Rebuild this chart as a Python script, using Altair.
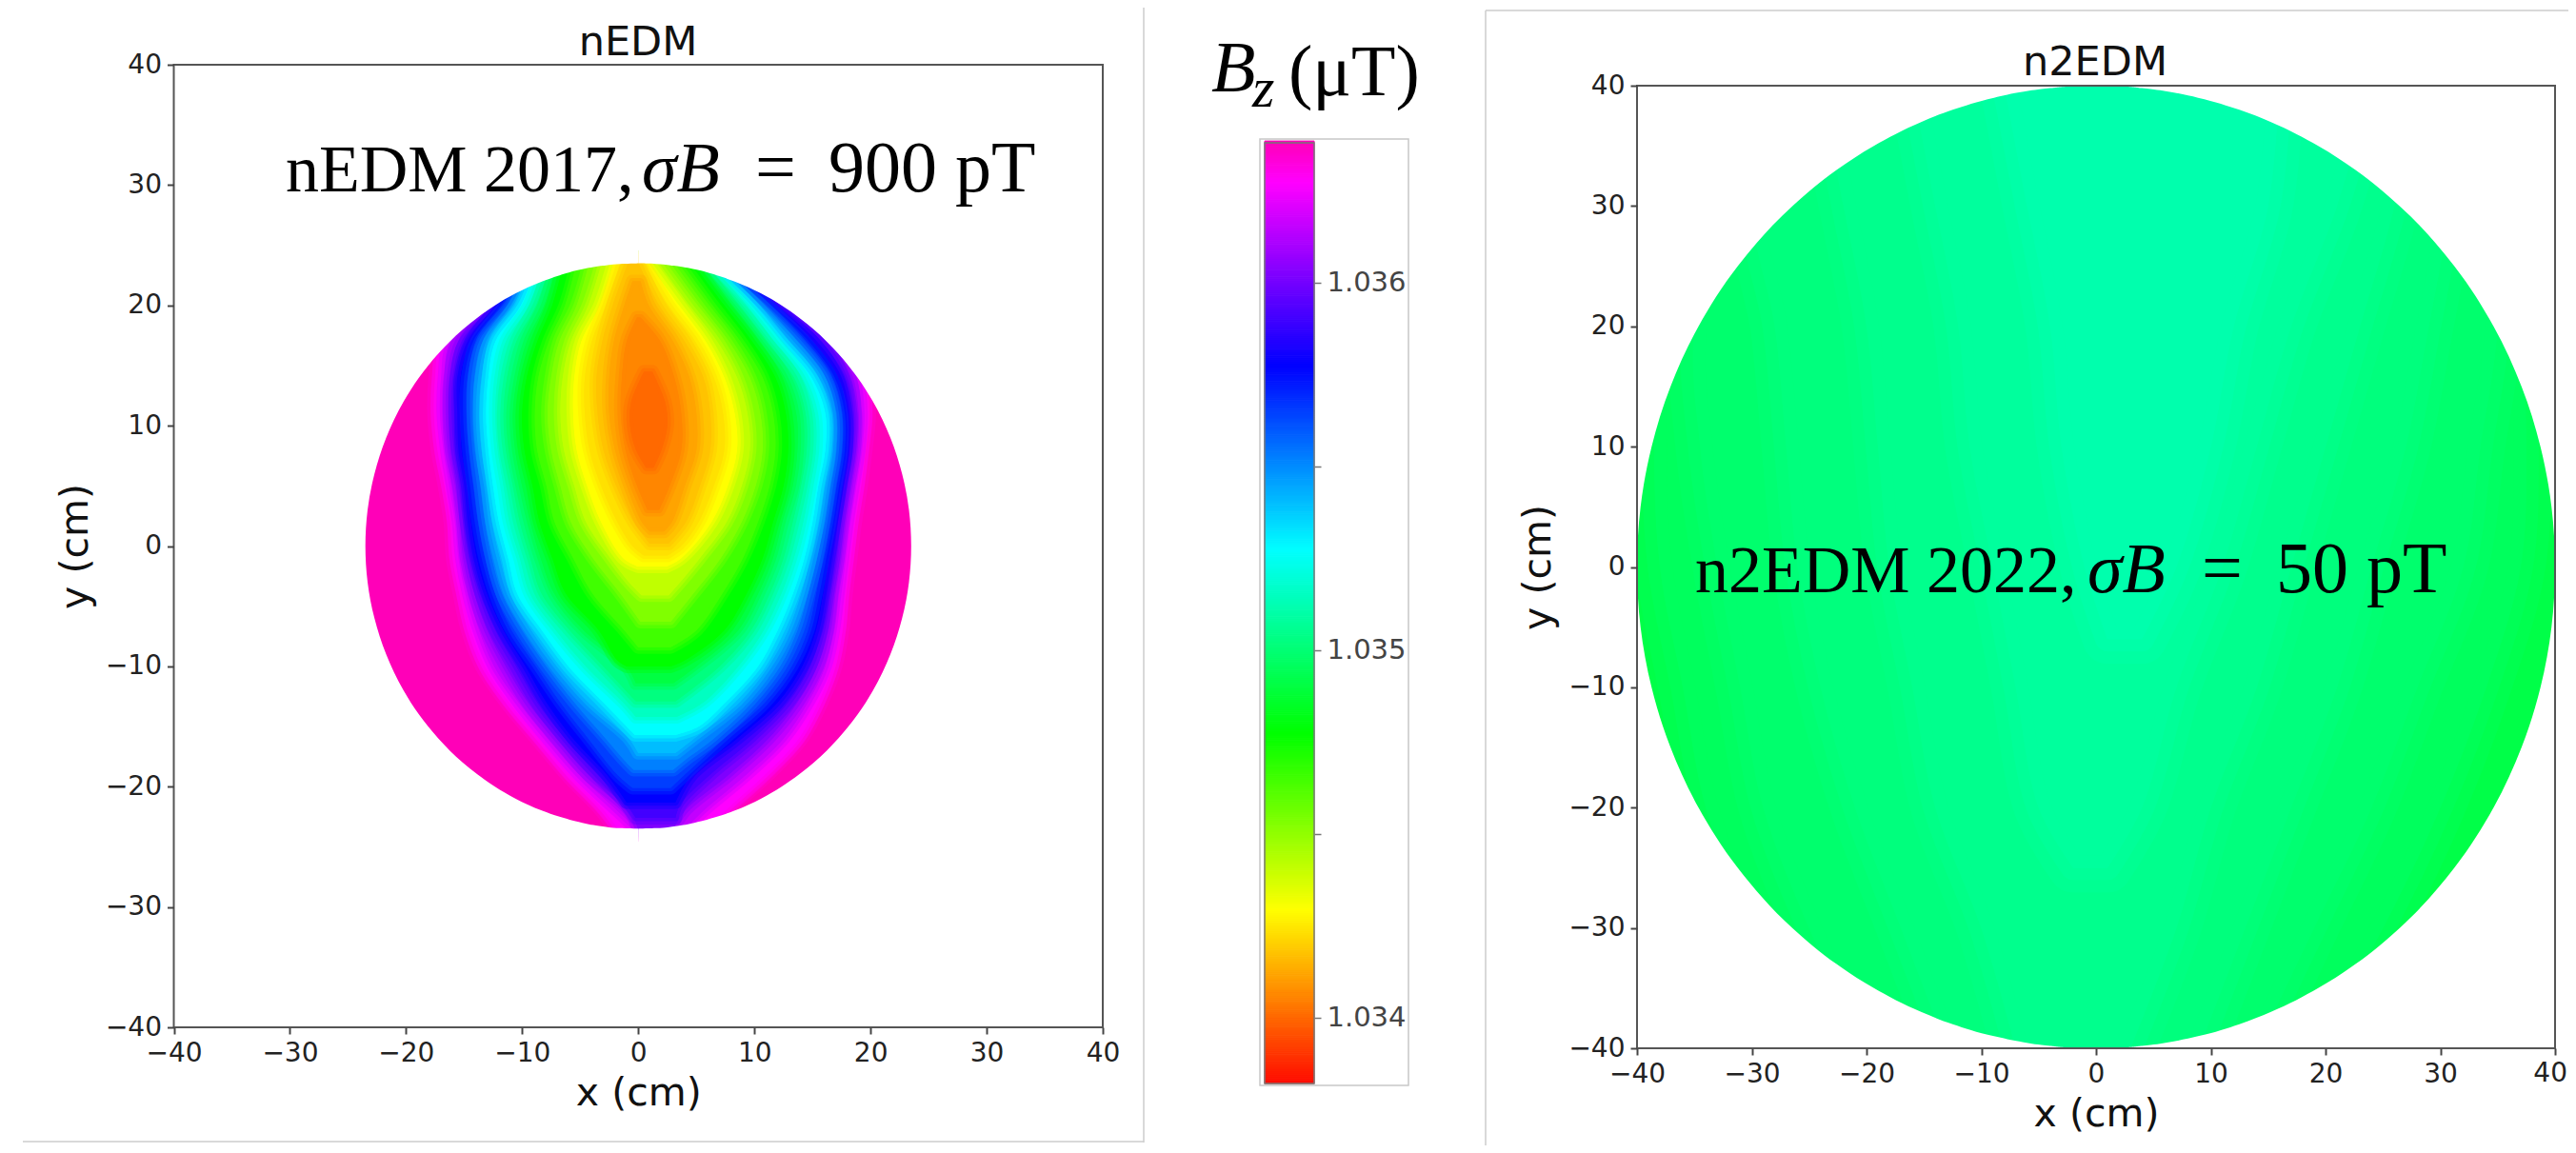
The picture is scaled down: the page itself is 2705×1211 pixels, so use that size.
import altair as alt
import numpy as np
import pandas as pd

COLOR_DOMAIN = [1.03382, 1.034291, 1.034771, 1.035271, 1.035771, 1.03627, 1.03638]
COLOR_RANGE = ["#ff0c00", "#ffff00", "#00ff00", "#00ffff", "#0000ff", "#ff00ff", "#ff00b8"]
CBAR_TICKS = [1.034, 1.0345, 1.035, 1.0355, 1.036]
AXIS_TICKS = [-40, -30, -20, -10, 0, 10, 20, 30, 40]

# nEDM contours: [y, x_left, x_right] in cm
NEDM_BASE = [[-24, -24, 24], [24, -24, 24]]
NEDM_L0 = [[24,-11.3,12.3],[20,-13.8,14.3],[17,-17,18.3],[14,-17.5,19.6],[11,-17.6,19.9],[8,-17.3,19.6],[5,-16.7,19.2],[2,-16.2,18.7],[-1,-16,18.3],[-4,-15.4,17.9],[-7,-14.7,17.6],[-10,-13.5,17],[-13,-11.4,15.8],[-16,-8.8,14.1],[-19,-6.2,11.2],[-22,-3.2,7.8],[-24,-1.7,5.9]]
NEDM_M = [[24,-11,12],[20,-13.5,14],[17,-16.7,18],[14,-17.2,19.3],[11,-17.3,19.6],[8,-17,19.3],[5,-16.4,18.9],[2,-15.9,18.4],[-1,-15.7,18],[-4,-15.1,17.6],[-7,-14.4,17.3],[-10,-13.2,16.7],[-13,-11.1,15.5],[-16,-8.5,13.8],[-19,-5.9,10.9],[-22,-2.9,7.5],[-24,-1.4,5.6]]
NEDM_A1 = [[24,-10.9,11],[20,-13.1,13.4],[17,-16.2,17.3],[14,-16.7,18.8],[11,-16.8,19.2],[8,-16.5,19],[5,-16,18.5],[2,-15.5,18],[-1,-15.2,17.6],[-4,-14.6,17.2],[-7,-13.7,16.8],[-10,-12.4,16.1],[-13,-10.3,14.6],[-16,-7.8,12.5],[-19,-5.1,9.3],[-22,-1.8,5.6],[-24,0.4,3.6]]
NEDM_A2 = [[24,-10.2,9.3],[20,-12.7,12.7],[17,-15.5,16.5],[14,-16.2,18.2],[11,-16.3,18.7],[8,-16.1,18.6],[5,-15.5,18.1],[2,-15.1,17.6],[-1,-14.8,17.2],[-4,-14.1,16.7],[-7,-13,16.3],[-10,-11.4,15.4],[-13,-9.5,13.7],[-16,-7,11.2],[-19,-4.3,7.8],[-22,-0.7,4],[-23.6,0,3]]
NEDM_A3 = [[24,-9.8,7.9],[20,-12.3,12.1],[17,-14.9,15.8],[14,-15.7,17.7],[11,-15.8,18.3],[8,-15.6,18.2],[5,-15.1,17.7],[2,-14.8,17.2],[-1,-14.3,16.8],[-4,-13.5,16.3],[-7,-12.3,15.8],[-10,-10.5,14.8],[-13,-8.7,12.9],[-16,-6.3,9.9],[-19,-3.5,6.2],[-21.5,-1,3.6],[-22.6,-0.2,3.2]]
NEDM_B = [[24,-9.5,6.5],[20,-12,11.5],[17,-14.4,15],[14,-15.3,17.2],[11,-15.3,17.9],[8,-15.2,17.9],[5,-14.7,17.4],[2,-14.4,16.9],[-1,-13.9,16.4],[-4,-13,15.9],[-7,-11.6,15.3],[-10,-9.7,14.1],[-13,-7.9,12],[-16,-5.6,8.5],[-19,-2.7,4.6],[-21.3,-1,3.2]]
NEDM_D1 = [[24,-9.3,6.2],[20,-11.5,11.1],[17,-13.9,14.3],[14,-14.7,16.6],[11,-14.8,17.5],[8,-14.6,17.5],[5,-14.2,17],[2,-13.8,16.5],[-1,-13.2,15.9],[-4,-12.3,15.3],[-7,-10.9,14.6],[-10,-8.8,13.2],[-13,-6.7,10.9],[-16,-4.3,7.4],[-19,-1.8,4],[-20.1,-0.5,2.8]]
NEDM_D2 = [[24,-9,5.9],[20,-11,10.6],[17,-13.4,13.7],[14,-14.1,16.1],[11,-14.2,17],[8,-14,17],[5,-13.6,16.5],[2,-13.2,16],[-1,-12.6,15.4],[-4,-11.7,14.6],[-7,-10,13.7],[-10,-7.9,12.2],[-13,-5.5,9.8],[-16,-2.8,6.5],[-17.8,-1.2,4],[-18.6,-0.4,3]]
NEDM_D3 = [[24,-8.8,5.6],[20,-10.6,10.1],[17,-12.8,13],[14,-13.5,15.5],[11,-13.7,16.5],[8,-13.5,16.5],[5,-13,16],[2,-12.6,15.5],[-1,-11.9,14.8],[-4,-11,14],[-7,-9.2,12.9],[-10,-7,11.2],[-13,-4.3,8.7],[-16,-0.8,4.8],[-17.2,0,3.2]]
NEDM_C = [[24,-8.5,5.4],[20,-10.1,9.7],[17,-12.3,12.3],[14,-12.9,14.9],[11,-13.1,16.1],[8,-12.9,16.1],[5,-12.5,15.5],[2,-12,15],[-1,-11.2,14.3],[-4,-10.4,13.3],[-7,-8.3,12],[-10,-6,10.3],[-13,-3,7.5],[-15,-1,5.2],[-15.7,-0.3,3.2]]
NEDM_E1 = [[24,-8,5.1],[20,-9.4,9.2],[17,-11.4,11.7],[14,-12.1,14.1],[11,-12.3,15.2],[8,-12.1,15.3],[5,-11.6,14.8],[2,-11.1,14.2],[-1,-10.2,13.4],[-4,-9.3,12.3],[-7,-7.1,10.8],[-10,-4.5,8.6],[-13,-1.3,5.6],[-14.2,-0.2,3.3]]
NEDM_E2 = [[24,-7.4,4.8],[20,-8.8,8.6],[17,-10.5,11],[14,-11.3,13.4],[11,-11.6,14.4],[8,-11.4,14.5],[5,-10.8,14],[2,-10.2,13.3],[-1,-9.3,12.5],[-4,-8.3,11.3],[-7,-5.9,9.7],[-10,-3,7],[-12.9,-0.2,3.2]]
NEDM_E3 = [[24,-6.9,4.6],[20,-8.1,8],[17,-9.6,10.4],[14,-10.4,12.6],[11,-10.8,13.6],[8,-10.6,13.7],[5,-10,13.3],[2,-9.3,12.4],[-1,-8.4,11.6],[-4,-7.2,10.3],[-7,-4.7,8.6],[-10,-1,5],[-11.4,-0.2,3]]
NEDM_G = [[24,-6.3,4.3],[20,-7.4,7.4],[17,-8.7,9.8],[14,-9.6,11.8],[11,-10,12.7],[8,-9.8,12.9],[5,-9.1,12.5],[2,-8.5,11.6],[-1,-7.4,10.7],[-4,-6.2,9.3],[-7,-3.4,7.4],[-9.5,-1.8,4],[-10,-1,2.8]]
NEDM_F1 = [[24,-5.2,3.4],[20,-6.3,6.4],[17,-7.7,8.8],[14,-8.6,10.7],[11,-8.9,11.6],[8,-8.7,11.8],[5,-7.9,11.3],[2,-7.2,10.3],[-1,-5.6,9],[-4,-3.9,7.2],[-7,-1.2,5],[-8.4,0,2.8]]
NEDM_F2 = [[24,-4.1,2.4],[20,-5.3,5.4],[17,-6.8,7.8],[14,-7.5,9.6],[11,-7.8,10.5],[8,-7.5,10.7],[5,-6.7,10.1],[2,-5.8,8.9],[-1,-3.9,7.1],[-4,-1.5,4.7],[-6.3,0.2,2.8]]
NEDM_F3 = [[24,-3,1.4],[20,-4.3,4.4],[17,-5.8,6.8],[14,-6.5,8.5],[11,-6.7,9.4],[8,-6.4,9.6],[5,-5.5,8.9],[2,-4.5,7.6],[-1,-2.4,5.3],[-3,-0.8,3.6],[-4.1,0.3,2.6]]
NEDM_Y = [[24,-2,0.5],[20,-3.3,3.5],[17,-4.9,5.8],[14,-5.5,7.4],[11,-5.6,8.3],[8,-5.3,8.5],[5,-4.4,7.7],[2,-3.2,6.3],[-1,-1.3,3.7],[-1.7,0,2.4]]
NEDM_YO = [[24,-1.4,0.2],[20,-2.8,2.6],[17,-4,4.9],[14,-4.6,6.5],[11,-4.6,7.3],[8,-4.2,7.4],[5,-3.2,6.5],[2,-1.8,5.2],[0,-0.5,3.7],[-0.8,0.5,2.5]]
NEDM_O1 = [[24,-0.7,-0.2],[20,-2.2,1.8],[17,-3.1,4],[14,-3.6,5.6],[11,-3.5,6.2],[8,-3,6.2],[5,-1.9,5.3],[2,-0.4,4.1],[0.2,1,2.6]]
NEDM_O1B = [[22,-0.5,0.2],[20,-1.2,0.9],[17,-2.1,3],[14,-2.5,4.4],[11,-2.5,5],[8,-2,5],[5,-1,4],[2,0.3,2.9],[1.2,1,2.2]]
NEDM_O2 = [[19,-0.1,0.2],[17,-1,1.9],[14,-1.4,3.1],[11,-1.5,3.7],[8,-1.1,3.7],[5,-0.1,2.7],[3,0.8,1.8]]
NEDM_CORE = [[14.5,0.5,1.2],[12,-0.6,2.3],[10,-0.7,2.5],[8,-0.2,2],[6.5,0.7,1.3]]
NEDM_LEVELS = [
    (1.03638, NEDM_BASE), (1.03632, NEDM_L0), (1.03627, NEDM_M), (1.03615, NEDM_A1),
    (1.03602, NEDM_A2), (1.0359, NEDM_A3), (1.035771, NEDM_B), (1.03565, NEDM_D1),
    (1.03552, NEDM_D2), (1.0354, NEDM_D3), (1.035271, NEDM_C), (1.03515, NEDM_E1),
    (1.03502, NEDM_E2), (1.0349, NEDM_E3), (1.034771, NEDM_G), (1.03465, NEDM_F1),
    (1.03453, NEDM_F2), (1.03441, NEDM_F3), (1.034291, NEDM_Y), (1.034233, NEDM_YO),
    (1.034174, NEDM_O1), (1.034115, NEDM_O1B), (1.034056, NEDM_O2), (1.034, NEDM_CORE),
]

# n2EDM contours
N2_BASE = [[-40, -40, 40], [40, -40, 40]]
N2_L1 = [[40,-30,35],[20,-38,37],[10,-38.5,37.5],[0,-38,37],[-10,-36,34],[-20,-34,30],[-30,-30,25],[-40,-24,19]]
N2_L2 = [[40,-30,35],[20,-35,35],[10,-34.5,33.5],[0,-33,32],[-10,-31,28],[-20,-29,24],[-30,-25,19],[-40,-20,14]]
N2_L3 = [[40,-28,33],[30,-30,31],[20,-28,29],[10,-27,27],[0,-26,24],[-10,-24,21],[-20,-21,17],[-30,-17,13],[-40,-13,9]]
N2_L4 = [[40,-24,28],[30,-22,26],[20,-20,23],[10,-19,20],[0,-18,17],[-10,-16,14],[-20,-14,10],[-30,-10,7],[-40,-7,3]]
N2_L5 = [[40,-16,24],[30,-14,21],[20,-12,17],[10,-11,14],[0,-9,11],[-10,-7,7],[-20,-5,4],[-25,-2,1]]
N2_L6 = [[40,-8,16],[30,-6,15],[20,-4,12],[10,-3,10],[0,-1,7],[-6,1,4]]
N2_LEVELS = [
    (1.034912, N2_BASE), (1.034954, N2_L1), (1.034985, N2_L2), (1.035016, N2_L3),
    (1.035048, N2_L4), (1.035079, N2_L5), (1.03511, N2_L6),
]

# Disc outlines: [y, |x| of the edge]
NEDM_EDGE = [[44,0],[23.5,0],[23.45,1.53],[23.3,3.06],[23,4.82],[22.5,6.78],[22,8.26],[21,10.55],[20,12.34],[19,13.83],[18,15.11],[16,17.21],[14,18.88],[12,20.21],[9,21.71],[6,22.72],[3,23.31],[0,23.5],[-3,23.31],[-6,22.72],[-9,21.71],[-12,20.21],[-14,18.88],[-16,17.21],[-18,15.11],[-19,13.83],[-20,12.34],[-21,10.55],[-22,8.26],[-22.5,6.78],[-23,4.82],[-23.3,3.06],[-23.45,1.53],[-23.5,0],[-44,0]]
N2_EDGE = [[44,0],[40,0],[39.95,2],[39.8,4],[39.5,6.3],[39,8.89],[38,12.49],[37,15.2],[35,19.36],[33,22.61],[30,26.46],[25,31.22],[20,34.64],[15,37.08],[10,38.73],[5,39.69],[0,40],[-5,39.69],[-10,38.73],[-15,37.08],[-20,34.64],[-25,31.22],[-30,26.46],[-33,22.61],[-35,19.36],[-37,15.2],[-38,12.49],[-39,8.89],[-39.5,6.3],[-39.8,4],[-39.95,2],[-40,0],[-44,0]]

FONT_SANS = "DejaVu Sans"
FONT_SERIF = "Liberation Serif"
W, H = 2689, 1195


def px(v):
    return v - 8


color_scale = alt.Scale(domain=COLOR_DOMAIN, range=COLOR_RANGE, interpolate="rgb")


def contour_frame(levels, rim):
    rows = []
    for rank, (value, pts) in enumerate(levels):
        for step, (sw, so) in enumerate([(rim * 2, 0.33), (rim, 0.5)]):
            for y, xl, xr in pts:
                rows.append(dict(rank=rank * 2 + step, v=value, y=y, xl=xl, xr=xr, sw=sw, so=so))
    return pd.DataFrame(rows)


def panel(levels, edge, left, right, top, bottom, rim, x_label_expr="datum.label"):
    sx = alt.Scale(domain=[-40, 40], range=[px(left), px(right)], nice=False, zero=False)
    sy = alt.Scale(domain=[-40, 40], range=[px(bottom), px(top)], nice=False, zero=False)
    x_noaxis = alt.X("xl:Q", scale=sx, axis=None)
    y_noaxis = alt.Y("y:Q", scale=sy, axis=None)
    field = (
        alt.Chart(contour_frame(levels, rim))
        .mark_area(orient="horizontal", interpolate="catmull-rom", strokeJoin="round")
        .encode(
            x=x_noaxis,
            x2="xr:Q",
            y=y_noaxis,
            detail="rank:O",
            color=alt.Color("v:Q", scale=color_scale, legend=None),
            stroke=alt.Color("v:Q", scale=color_scale, legend=None),
            strokeWidth=alt.StrokeWidth("sw:Q", scale=None, legend=None),
            strokeOpacity=alt.StrokeOpacity("so:Q", scale=None, legend=None),
        )
    )
    edge_df = pd.DataFrame(edge, columns=["y", "e"])
    edge_df["xr"] = -edge_df["e"]
    edge_df["xl"] = -44
    edge_df["xl2"] = edge_df["e"]
    edge_df["xr2"] = 44
    mask_l = (
        alt.Chart(edge_df)
        .mark_area(orient="horizontal", interpolate="monotone", color="white")
        .encode(x=x_noaxis, x2="xr:Q", y=y_noaxis)
    )
    mask_r = (
        alt.Chart(edge_df)
        .mark_area(orient="horizontal", interpolate="monotone", color="white")
        .encode(x=alt.X("xl2:Q", scale=sx, axis=None), x2="xr2:Q", y=y_noaxis)
    )
    frame = (
        alt.Chart(pd.DataFrame([dict(a=-40, b=40)]))
        .mark_rect(fill=None, stroke="#555555", strokeWidth=2)
        .encode(
            x=alt.X(
                "a:Q", scale=sx,
                axis=alt.Axis(
                    orient="bottom", offset=px(bottom) - H, values=AXIS_TICKS, grid=False, domain=False, zindex=1,
                    title="x (cm)", titleFont=FONT_SANS, titleFontSize=41, titleFontWeight="normal",
                    titleColor="#111111", titlePadding=8, labelFont=FONT_SANS, labelFontSize=28,
                    labelColor="#222222", labelPadding=6, tickColor="#444444", tickWidth=2, tickSize=7,
                    labelFlush=False, labelOverlap=False, labelExpr=x_label_expr,
                ),
            ),
            x2="b:Q",
            y=alt.Y(
                "a:Q", scale=sy,
                axis=alt.Axis(
                    orient="left", offset=-px(left), values=AXIS_TICKS, grid=False, domain=False, zindex=1,
                    title="y (cm)", titleFont=FONT_SANS, titleFontSize=41, titleFontWeight="normal",
                    titleColor="#111111", titlePadding=10, labelFont=FONT_SANS, labelFontSize=28,
                    labelColor="#222222", labelPadding=6, tickColor="#444444", tickWidth=2, tickSize=7,
                    labelFlush=False, labelOverlap=False,
                ),
            ),
            y2="b:Q",
        )
    )
    return [field, mask_l, mask_r, frame]


one = pd.DataFrame([{"k": 1}])


def text(s, x, y, size, font=FONT_SERIF, style="normal", align="left", color="#000000", angle=0):
    return (
        alt.Chart(one)
        .mark_text(text=s, font=font, fontSize=size, fontStyle=style, align=align, baseline="alphabetic", color=color, angle=angle)
        .encode(x=alt.value(px(x)), y=alt.value(px(y)))
    )


def line(x1, y1, x2, y2):
    return (
        alt.Chart(one)
        .mark_rule(color="#cccccc", strokeWidth=1.5)
        .encode(x=alt.value(px(x1)), x2=alt.value(px(x2)), y=alt.value(px(y1)), y2=alt.value(px(y2)))
    )


# Colour bar
cb_vals = np.arange(1.03382, 1.03638, 0.000005)
cb_df = pd.DataFrame({"v": cb_vals, "v2": cb_vals + 0.000005})
cb_scale = alt.Scale(domain=[1.03382, 1.03638], range=[px(1138), px(150)], nice=False, zero=False)
cbar = (
    alt.Chart(cb_df)
    .mark_rect(strokeWidth=1)
    .encode(
        x=alt.value(px(1328)),
        x2=alt.value(px(1380)),
        y=alt.Y(
            "v:Q", scale=cb_scale,
            axis=alt.Axis(
                orient="right", offset=px(1380) - W, values=CBAR_TICKS, grid=False, domain=False, title=None,
                labelExpr="round(datum.value*10000)%10==0 ? format(datum.value,'.3f') : ''",
                labelFont=FONT_SANS, labelFontSize=29, labelColor="#444444", labelPadding=6,
                tickColor="#777777", tickWidth=1.5, tickSize=7, labelOverlap=False, labelFlush=False,
            ),
        ),
        y2="v2:Q",
        color=alt.Color("v:Q", scale=color_scale, legend=None),
        stroke=alt.Color("v:Q", scale=color_scale, legend=None),
    )
)
cbar_edge = (
    alt.Chart(one)
    .mark_rect(fill=None, stroke="#777777", strokeWidth=1.5)
    .encode(x=alt.value(px(1328)), x2=alt.value(px(1380)), y=alt.value(px(150)), y2=alt.value(px(1138)))
)
cbar_box = (
    alt.Chart(one)
    .mark_rect(fill=None, stroke="#c8c8c8", strokeWidth=1.5)
    .encode(x=alt.value(px(1323)), x2=alt.value(px(1479)), y=alt.value(px(146)), y2=alt.value(px(1140)))
)

layers = []
layers += panel(NEDM_LEVELS, NEDM_EDGE, 182.5, 1158, 68, 1079, rim=7)
layers += panel(N2_LEVELS, N2_EDGE, 1719, 2683, 90, 1101, rim=26, x_label_expr="datum.value == 40 ? '' : datum.label")
layers += [cbar_box, cbar, cbar_edge]
layers += [
    line(1201, 0, 1201, 1200), line(24, 1199, 1201, 1199),
    line(1560, 11, 1560, 1211), line(1560, 11, 2697, 11),
    text("nEDM", 670, 58, 43, FONT_SANS, align="center", color="#111111"),
    text("n2EDM", 2200, 79, 43, FONT_SANS, align="center", color="#111111"),
    text("40", 2696, 1136, 28, FONT_SANS, align="right", color="#222222"),
    text("nEDM 2017,", 300, 201, 70),
    text("σB", 674, 201, 74, style="italic"),
    text("=", 793, 201, 76),
    text("900 pT", 870, 201, 76),
    text("n2EDM 2022,", 1780, 622, 70),
    text("σB", 2192, 622, 74, style="italic"),
    text("=", 2312, 622, 76),
    text("50 pT", 2390, 622, 76),
    text("B", 1272, 96, 76, style="italic"),
    text("z", 1315, 112, 60, style="italic"),
    text("(μT)", 1353, 100, 76),
]

chart = (
    alt.layer(*layers)
    .resolve_scale(x="independent", y="independent", color="shared", stroke="shared")
    .resolve_axis(x="independent", y="independent")
    .properties(width=W, height=H, padding=0, autosize=alt.AutoSizeParams(type="none"))
    .configure_view(stroke=None)
)
chart.save("out.html", embed_options={"renderer": "svg", "actions": False})
